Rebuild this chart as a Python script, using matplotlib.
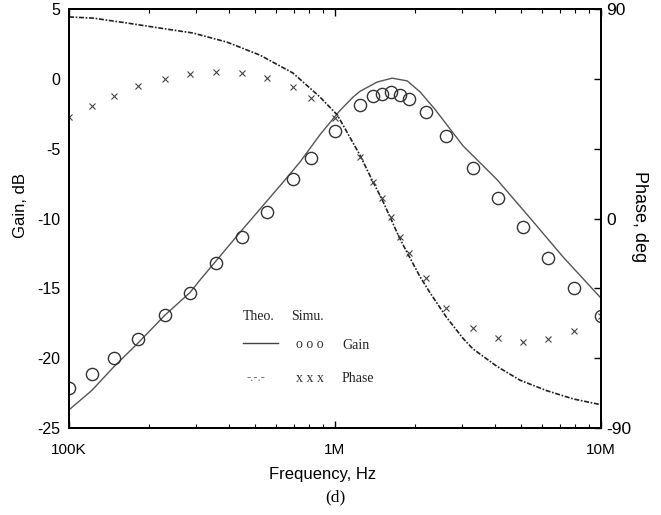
import numpy as np
import matplotlib
matplotlib.use('Agg')
import matplotlib.pyplot as plt
from matplotlib.ticker import FixedLocator, LogLocator, NullFormatter

# simulated points (same frequencies for gain and phase)
sim_freq = [1.00e5, 1.22e5, 1.48e5, 1.82e5, 2.30e5, 2.85e5, 3.58e5, 4.47e5, 5.55e5,
            6.95e5, 8.12e5, 1.00e6, 1.24e6, 1.39e6, 1.50e6, 1.63e6, 1.75e6, 1.89e6,
            2.19e6, 2.61e6, 3.30e6, 4.10e6, 5.09e6, 6.33e6, 7.91e6, 1.00e7]
sim_gain = [-22.1, -21.1, -20.0, -18.6, -16.9, -15.3, -13.2, -11.3, -9.5,
            -7.2, -5.7, -3.7, -1.9, -1.2, -1.05, -0.95, -1.15, -1.45,
            -2.4, -4.1, -6.4, -8.5, -10.6, -12.8, -15.0, -17.0]
sim_phase = [43.6, 48.3, 52.6, 56.9, 59.9, 62.1, 62.9, 62.5, 60.4,
             56.5, 51.8, 43.2, 26.4, 15.7, 8.8, 0.7, -7.9, -14.8,
             -25.5, -38.4, -47.0, -51.3, -53.0, -51.8, -48.3, -41.9]

# theory curves
theo_gain_f = [1.00e5, 1.22e5, 1.46e5, 1.82e5, 2.30e5, 2.85e5, 3.11e5, 4.39e5, 6.38e5,
               7.39e5, 8.78e5, 1.04e6, 1.17e6, 1.24e6, 1.44e6, 1.64e6, 1.87e6, 2.09e6,
               2.38e6, 3.03e6, 4.06e6, 5.41e6, 7.20e6, 1.00e7]
theo_gain = [-23.7, -22.3, -20.7, -18.9, -16.9, -15.3, -14.4, -11.0, -7.4,
             -5.95, -4.0, -2.3, -1.3, -0.9, -0.23, 0.05, -0.15, -0.94,
             -2.2, -4.8, -7.2, -9.96, -12.75, -15.7]

theo_phase_f = [1.00e5, 1.23e5, 1.65e5, 2.20e5, 2.92e5, 3.92e5, 5.22e5, 6.95e5, 8.78e5,
                1.02e6, 1.24e6, 1.39e6, 1.50e6, 1.61e6, 1.74e6, 1.87e6, 2.09e6, 2.28e6,
                2.62e6, 3.03e6, 3.30e6, 4.06e6, 4.97e6, 6.27e6, 7.86e6, 1.00e7]
theo_phase = [86.6, 86.1, 84.0, 81.8, 79.7, 75.8, 70.2, 62.5, 52.2,
              44.5, 27.3, 15.7, 8.4, 0.7, -7.9, -14.8, -25.1, -32.0,
              -42.3, -51.5, -56.0, -63.5, -69.5, -74.0, -77.5, -80.0]

plt.rcParams['font.family'] = ['Liberation Sans', 'DejaVu Sans']
plt.rcParams['axes.unicode_minus'] = False
serif = ['Liberation Serif', 'DejaVu Serif']

fig = plt.figure(figsize=(6.61, 5.15), dpi=100)
ax = fig.add_axes([0.1044, 0.1689, 0.8048, 0.8136])
ax2 = ax.twinx()

ax.plot(theo_gain_f, theo_gain, color='#555555', lw=1.0)
ax.plot(sim_freq, sim_gain, 'o', mfc='none', mec='#333333', ms=8.8, mew=1.0)
ax2.plot(theo_phase_f, theo_phase, color='#222222', lw=1.2, dashes=(3, 1, 1, 1))
ax2.plot(sim_freq, sim_phase, 'x', color='#444444', ms=4.5, mew=0.8)

ax.set_xscale('log')
ax.set_xlim(1e5, 1e7)
ax.set_ylim(-25, 5)
ax2.set_ylim(-90, 90)

ax.xaxis.set_major_locator(FixedLocator([1e5, 1e6, 1e7]))
ax.set_xticklabels(['100K', '1M', '10M'])
ax.xaxis.set_minor_locator(LogLocator(base=10, subs=np.arange(2, 10)))
ax.xaxis.set_minor_formatter(NullFormatter())
ax.set_yticks(np.arange(-25, 6, 5))

ax2.set_yticks(np.arange(-90, 91, 30))
ax2.set_yticklabels(['-90', '', '', '0', '', '', '90'])

ax.tick_params(axis='x', which='both', direction='in', top=True, labelsize=11, pad=11)
ax.tick_params(axis='x', which='major', length=5, width=1)
ax.tick_params(axis='x', which='minor', length=3, width=0.8)
ax.tick_params(axis='y', length=0, labelsize=11.5, pad=6)
ax2.tick_params(axis='y', direction='in', length=5, width=1, labelsize=12.5, pad=4)

for a in (ax, ax2):
    for s in a.spines.values():
        s.set_linewidth(1.4)

ax.set_xlabel('Frequency, Hz', fontsize=12)
ax.xaxis.set_label_coords(0.476, -0.093)
ax.set_ylabel('Gain, dB', fontsize=12)
ax.yaxis.set_label_coords(-0.077, 0.532)
ax2.set_ylabel('Phase, deg', fontsize=13, rotation=270, va='center')
ax2.yaxis.set_label_coords(1.073, 0.505)

# hand-made legend
tr = ax.transAxes
ax.text(0.327, 0.267, 'Theo.', transform=tr, family=serif, fontsize=10, va='center', color='#222222')
ax.text(0.417, 0.267, 'Simu.', transform=tr, family=serif, fontsize=10, va='center', color='#222222')
ax.plot([0.327, 0.393], [0.203, 0.203], transform=tr, color='#444444', lw=1.0)
ax.text(0.427, 0.200, 'o o o', transform=tr, family=serif, fontsize=10, va='center', color='#333333')
ax.text(0.513, 0.198, 'Gain', transform=tr, family=serif, fontsize=10, va='center', color='#222222')
ax.text(0.333, 0.119, '-.-.-', transform=tr, family=serif, fontsize=9, va='center', color='#777777')
ax.text(0.427, 0.119, 'x x x', transform=tr, family=serif, fontsize=10, va='center', color='#333333')
ax.text(0.513, 0.119, 'Phase', transform=tr, family=serif, fontsize=10, va='center', color='#222222')

fig.text(0.507, 0.035, '(d)', family=serif, fontsize=12.5, ha='center', va='center')

fig.savefig('out.png', dpi=100)
